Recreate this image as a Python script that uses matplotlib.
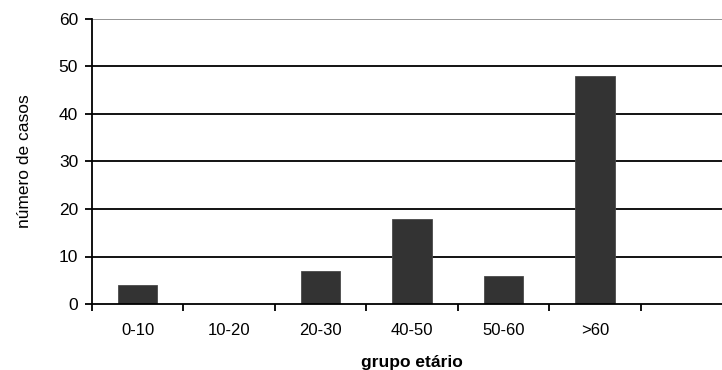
import matplotlib
matplotlib.use("Agg")
import matplotlib.pyplot as plt
import numpy as np

plt.rcParams['font.family'] = ['Liberation Sans', 'DejaVu Sans']

categories = ["0-10", "10-20", "20-30", "40-50", "50-60", ">60", ""]
casos = [4, 0, 7, 18, 6, 48, 0]
y_ticks = [0, 10, 20, 30, 40, 50, 60]

W, H = 722, 370
fig = plt.figure(figsize=(W / 100, H / 100), dpi=100)
x0, x1 = 92, 732
y0, y1 = 304, 19
ax = fig.add_axes([x0 / W, (H - y0) / H, (x1 - x0) / W, (y0 - y1) / H])

x = np.arange(len(categories))
ax.bar(x, casos, width=0.43, color="#333333", edgecolor="#4a4a4a",
       linewidth=0.6, zorder=3)

for v in y_ticks[1:]:
    ax.axhline(v, color="#8c8c8c" if v == 60 else "black",
               linewidth=1.3, zorder=1)

ax.set_xlim(-0.5, len(categories) - 0.5)
ax.set_ylim(0, 60)
ax.set_yticks(y_ticks)
ax.set_yticklabels([str(v) for v in y_ticks], fontsize=12.5)

ax.set_xticks(x)
ax.set_xticklabels(categories, fontsize=12)
ax.set_xticks(np.arange(len(categories) + 1) - 0.5, minor=True)
ax.tick_params(axis='x', which='major', length=0, pad=14)
ax.tick_params(axis='x', which='minor', length=5, width=1.3, direction='out')
ax.tick_params(axis='y', length=5, width=1.3, direction='out', pad=5)

for s in ("top", "right"):
    ax.spines[s].set_visible(False)
for s in ("left", "bottom"):
    ax.spines[s].set_linewidth(1.3)
ax.spines["bottom"].set_zorder(4)

ax.set_xlabel("grupo etário", fontsize=12.5, fontweight="bold", va="center")
ax.xaxis.set_label_coords(0.5, (y0 - 362) / (y0 - y1))
ax.set_ylabel("número de casos", fontsize=12.5, va="center")
ax.yaxis.set_label_coords((25 - x0) / (x1 - x0), 0.5)

fig.savefig("out.png", dpi=100)
